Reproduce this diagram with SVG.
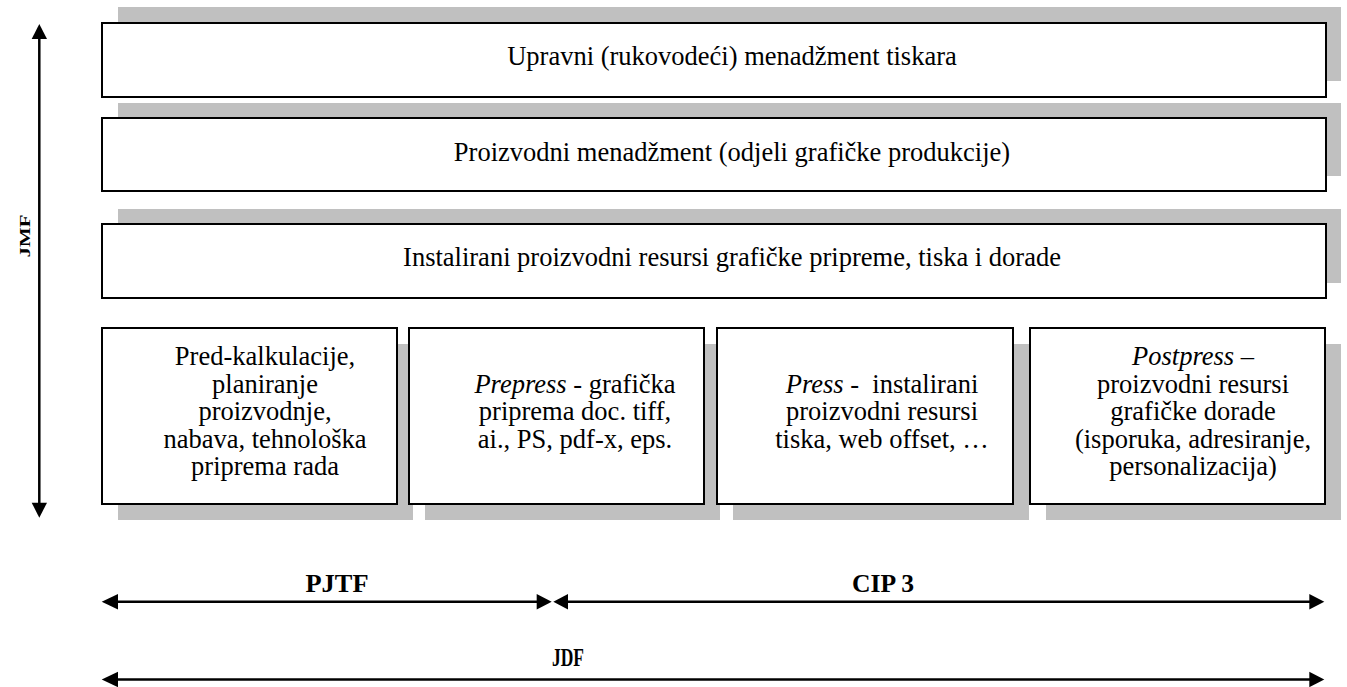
<svg xmlns="http://www.w3.org/2000/svg" width="1347" height="687" viewBox="0 0 1347 687">
<style>
.shadow{fill:#c0c0c0;stroke:none}
.box{fill:#ffffff;stroke:#000000;stroke-width:2}
.t{font-family:"Liberation Serif","Times New Roman",serif;font-size:26.5px;fill:#000;text-anchor:middle}
.lbl{font-family:"Liberation Serif","Times New Roman",serif;font-size:25px;font-weight:bold;fill:#000;text-anchor:middle}
.conn{stroke:#000;stroke-width:2.5;fill:none}
.head{fill:#000}
</style>
<rect width="1347" height="687" fill="#ffffff"/>
<g id="node-upravni">
<rect class="shadow" x="118" y="7" width="1223" height="74"/>
<rect class="box" x="102" y="23" width="1224" height="74"/>
<text class="t" x="732" y="65">Upravni (rukovodeći) menadžment tiskara</text>
</g>
<g id="node-proizvodni">
<rect class="shadow" x="118" y="103" width="1223" height="73"/>
<rect class="box" x="102" y="118" width="1224" height="73"/>
<text class="t" x="732" y="161">Proizvodni menadžment (odjeli grafičke produkcije)</text>
</g>
<g id="node-instalirani">
<rect class="shadow" x="118" y="209" width="1223" height="74"/>
<rect class="box" x="102" y="224" width="1224" height="74"/>
<text class="t" x="732" y="266">Instalirani proizvodni resursi grafičke pripreme, tiska i dorade</text>
</g>
<g id="node-predkalkulacije">
<rect class="shadow" x="118" y="344" width="295" height="176"/>
<rect class="box" x="102" y="328" width="295" height="176"/>
<text class="t"><tspan x="265" y="365">Pred-kalkulacije,</tspan><tspan x="265" y="392.5">planiranje</tspan><tspan x="265" y="420">proizvodnje,</tspan><tspan x="265" y="447.5">nabava, tehnološka</tspan><tspan x="265" y="475">priprema rada</tspan></text>
</g>
<g id="node-prepress">
<rect class="shadow" x="425" y="344" width="295" height="176"/>
<rect class="box" x="409" y="328" width="295" height="176"/>
<text class="t"><tspan x="575" y="392.5"><tspan font-style="italic">Prepress</tspan> - grafička</tspan><tspan x="575" y="420">priprema doc. tiff,</tspan><tspan x="575" y="447.5">ai., PS, pdf-x, eps.</tspan></text>
</g>
<g id="node-press">
<rect class="shadow" x="733" y="344" width="296" height="176"/>
<rect class="box" x="717" y="328" width="296" height="176"/>
<text class="t" xml:space="preserve"><tspan x="882" y="392.5"><tspan font-style="italic">Press</tspan> -  instalirani</tspan><tspan x="882" y="420">proizvodni resursi</tspan><tspan x="882" y="447.5">tiska, web offset, …</tspan></text>
</g>
<g id="node-postpress">
<rect class="shadow" x="1046" y="344" width="295" height="176"/>
<rect class="box" x="1030" y="328" width="295" height="176"/>
<text class="t"><tspan x="1193" y="365"><tspan font-style="italic">Postpress</tspan> –</tspan><tspan x="1193" y="392.5">proizvodni resursi</tspan><tspan x="1193" y="420">grafičke dorade</tspan><tspan x="1193" y="447.5">(isporuka, adresiranje,</tspan><tspan x="1193" y="475">personalizacija)</tspan></text>
</g>
<g id="connectors">
<line class="conn" x1="39.3" y1="36" x2="39.3" y2="505"/>
<polygon class="head" points="39.3,24 31.7,39 47,39"/>
<polygon class="head" points="39.3,517.7 31.7,502.7 47,502.7"/>
<line class="conn" x1="112" y1="601.7" x2="540" y2="601.7"/>
<polygon class="head" points="101.7,601.7 118,594 118,609.4"/>
<polygon class="head" points="551.7,601.7 536.7,594 536.7,609.4"/>
<line class="conn" x1="565" y1="601.7" x2="1312" y2="601.7"/>
<polygon class="head" points="553.3,601.7 568,594 568,609.4"/>
<polygon class="head" points="1324.3,601.7 1309.3,594 1309.3,609.4"/>
<line class="conn" x1="112" y1="679.5" x2="1312" y2="679.5"/>
<polygon class="head" points="101.7,679.5 118,671.8 118,687.2"/>
<polygon class="head" points="1324.3,679.5 1309.3,671.8 1309.3,687.2"/>
</g>
<g id="labels">
<text class="lbl" x="337" y="592" textLength="63" lengthAdjust="spacingAndGlyphs">PJTF</text>
<text class="lbl" x="883" y="592" textLength="62" lengthAdjust="spacingAndGlyphs">CIP 3</text>
<text class="lbl" x="568" y="666" font-size="27" textLength="32" lengthAdjust="spacingAndGlyphs">JDF</text>
<text class="lbl" transform="translate(30,236) scale(0.6,1) rotate(-90)" x="0" y="0" textLength="43" lengthAdjust="spacingAndGlyphs">JMF</text>
</g>
</svg>
